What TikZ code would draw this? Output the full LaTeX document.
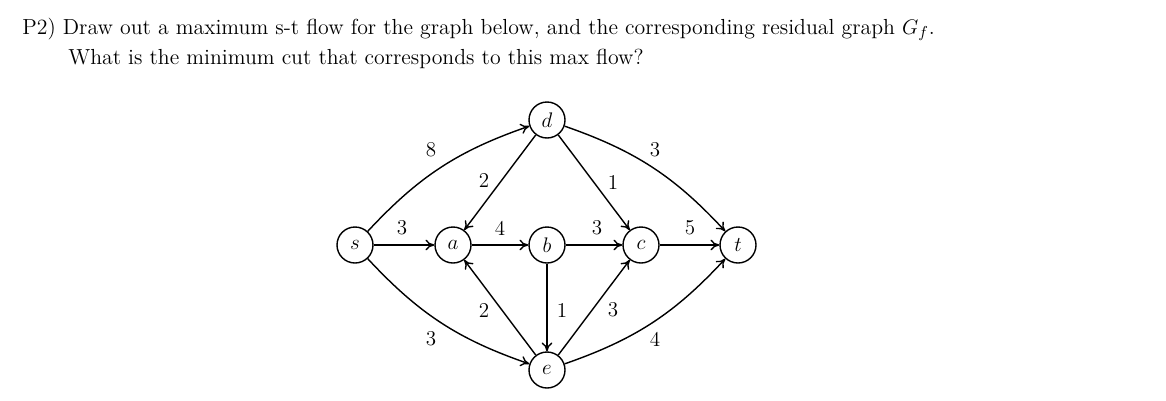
\documentclass[tikz,border=0pt]{standalone}
\usetikzlibrary{arrows.meta}
\begin{document}
\begin{tikzpicture}[x=0.02cm,y=-0.02cm,
  vtx/.style={circle,draw,thick,minimum size=36*0.02cm,inner sep=0pt,font=\large},
  edge/.style={thick,-{To[length=5pt,width=6pt]}},
  lab/.style={font=\large,inner sep=1pt}]
\useasboundingbox (0,0) rectangle (1166,400);
\node[anchor=base west,font=\fontsize{12.4}{14}\selectfont,inner sep=0] (l1) at (22,34) {P2)\ Draw out a maximum s-t flow for the graph below, and the corresponding residual graph $G_f$.};
\node[anchor=base west,font=\fontsize{12.4}{14}\selectfont,inner sep=0] (l2) at (68,64) {What is the minimum cut that corresponds to this max flow?};
\node[vtx] (s) at (355,245) {$s$};
\node[vtx] (a) at (453,245) {$a$};
\node[vtx] (b) at (547,245) {$b$};
\node[vtx] (c) at (641,245) {$c$};
\node[vtx] (t) at (738,245) {$t$};
\node[vtx] (d) at (547,120) {$d$};
\node[vtx] (e) at (547,370) {$e$};
\draw[edge] (s) to[bend left=14] (d);
\draw[edge] (d) to[bend left=14] (t);
\draw[edge] (s) to[bend right=14] (e);
\draw[edge] (e) to[bend right=14] (t);
\draw[edge] (s) -- (a);
\draw[edge] (a) -- (b);
\draw[edge] (b) -- (c);
\draw[edge] (c) -- (t);
\draw[edge] (d) -- (a);
\draw[edge] (d) -- (c);
\draw[edge] (e) -- (a);
\draw[edge] (b) -- (e);
\draw[edge] (e) -- (c);
\node[lab] (n1) at (431,150) {8};
\node[lab] (n2) at (655,150) {3};
\node[lab] (n3) at (431,339) {3};
\node[lab] (n4) at (655,339) {4};
\node[lab] (n5) at (402,228) {3};
\node[lab] (n6) at (500,228) {4};
\node[lab] (n7) at (597,228) {3};
\node[lab] (n8) at (690,228) {5};
\node[lab] (n9) at (484,180) {2};
\node[lab] (n10) at (613,182) {1};
\node[lab] (n11) at (484,310) {2};
\node[lab] (n12) at (562,310) {1};
\node[lab] (n13) at (613,310) {3};
\end{tikzpicture}
\end{document}
